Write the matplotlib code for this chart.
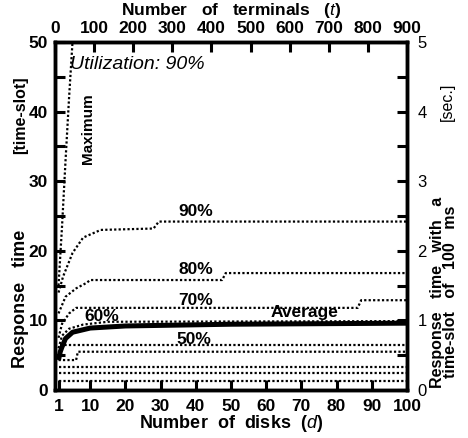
import matplotlib
matplotlib.use("Agg")
import matplotlib.pyplot as plt

plt.rcParams['font.family'] = ['Liberation Sans', 'DejaVu Sans']
plt.rcParams['mathtext.fontset'] = 'custom'
plt.rcParams['mathtext.it'] = 'Liberation Sans:italic'
plt.rcParams['mathtext.rm'] = 'Liberation Sans'

# ---- data (response time in time-slots vs number of disks) ----
max_d = [1, 2, 3, 4, 5.1]
max_v = [15, 23.5, 33, 42, 51]

p90_d = [1, 2.3, 5, 8, 13, 28, 29.5, 100]
p90_v = [14, 16.3, 19.7, 21.9, 23.0, 23.2, 24.2, 24.2]

p80_d = [1, 3, 6, 9, 10, 47.5, 48.5, 100]
p80_v = [11, 13.4, 14.6, 15.4, 15.8, 15.8, 16.8, 16.8]

p70_d = [1, 2, 4, 6, 86, 87, 100]
p70_v = [7.5, 9.5, 11, 11.8, 11.8, 12.9, 12.9]

p60_d = [1, 2, 4, 8, 15, 100]
p60_v = [6, 7.8, 8.8, 9.4, 9.8, 9.9]

avg_d = [1, 1.5, 2, 3, 5, 10, 20, 50, 100]
avg_v = [4.3, 5.5, 6.2, 7.4, 8.3, 8.9, 9.2, 9.45, 9.6]

p50_d = [1.5, 100]
p50_v = [6.5, 6.5]

p40_d = [1, 6, 6.5, 100]
p40_v = [4.3, 4.3, 5.5, 5.5]

p30_d = [1, 100]
p30_v = [3.3, 3.3]

p20_d = [1, 100]
p20_v = [2.4, 2.4]

p10_d = [1, 100]
p10_v = [1.3, 1.3]

x_ticks = [1, 10, 20, 30, 40, 50, 60, 70, 80, 90, 100]
top_ticks = [0, 100, 200, 300, 400, 500, 600, 700, 800, 900]
y_ticks = [0, 10, 20, 30, 40, 50]
y2_ticks = [0, 1, 2, 3, 4, 5]

fig = plt.figure(figsize=(4.68, 4.38), dpi=100)
ax = fig.add_axes([0.1175, 0.1096, 0.752, 0.7945])

dot = dict(color='black', linestyle=(0, (1, 1)), linewidth=1.6)
ax.plot(max_d, max_v, **dot)
for dd, vv in [(p90_d, p90_v), (p80_d, p80_v), (p70_d, p70_v), (p60_d, p60_v),
               (p50_d, p50_v), (p40_d, p40_v), (p30_d, p30_v), (p20_d, p20_v),
               (p10_d, p10_v)]:
    ax.plot(dd, vv, **dot)
ax.plot(avg_d, avg_v, color='black', linewidth=3.6, solid_capstyle='butt')

ax.set_xlim(0, 100)
ax.set_ylim(0, 50)
ax.set_xticks(x_ticks)
ax.set_yticks(y_ticks)
ax.set_yticks([5, 15, 25, 35, 45], minor=True)

fs = 12.5
for sp in ax.spines.values():
    sp.set_linewidth(2.5)
ax.tick_params(which='major', direction='in', length=7, width=2.2, labelsize=fs, pad=5)
ax.tick_params(axis='x', which='major', pad=6.5)
ax.tick_params(which='minor', direction='in', length=7, width=2.2)
for lbl in ax.get_xticklabels() + ax.get_yticklabels():
    lbl.set_fontweight('bold')

ax.set_xlabel('Number  of  disks  ($d$)', fontsize=13, fontweight='bold', labelpad=-1)

# top axis
axt = ax.twiny()
axt.set_xlim(0, 900)
axt.set_xticks(top_ticks)
axt.tick_params(direction='in', length=7, width=2.2, labelsize=fs, pad=4)
for lbl in axt.get_xticklabels():
    lbl.set_fontweight('bold')
fig.text(0.5 * (55 + 407) / 468, 1 - 10 / 438, 'Number   of   terminals   ($t$)',
         ha='center', va='center', fontsize=12.5, fontweight='bold')

# right axis
axr = ax.twinx()
axr.set_ylim(0, 5)
axr.set_yticks(y2_ticks)
axr.set_yticks([0.5, 1.5, 2.5, 3.5, 4.5], minor=True)
axr.tick_params(which='major', direction='in', length=7, width=2.2, labelsize=12, pad=7.5)
axr.tick_params(which='minor', direction='in', length=7, width=2.2)
for sp in axr.spines.values():
    sp.set_linewidth(2.5)

# axis titles
fig.text(21/468, 1 - 299/438, 'Response   time', rotation=90, ha='center', va='center',
         fontsize=13, fontweight='bold')
fig.text(21/468, 1 - 115/438, '[time-slot]', rotation=90, ha='center', va='center',
         fontsize=11.5, fontweight='bold')
fig.text(444/468, 1 - 292/438, 'Response   time   with   a\ntime-slot   of   100   ms', rotation=90,
         ha='center', va='center', fontsize=11.5, fontweight='bold', linespacing=0.85)
fig.text(447/468, 1 - 102/438, '[sec.]', rotation=90, ha='center', va='center',
         fontsize=11.5)

# annotations
ax.text(4.3, 46.8, 'Utilization: 90%', fontsize=14, style='italic', ha='left', va='center')
ax.text(9.4, 37.5, 'Maximum', rotation=90, fontsize=11, fontweight='bold', ha='center', va='center')
ax.text(40, 25.6, '90%', fontsize=fs, fontweight='bold', ha='center', va='center')
ax.text(40, 17.3, '80%', fontsize=fs, fontweight='bold', ha='center', va='center')
ax.text(40, 12.8, '70%', fontsize=fs, fontweight='bold', ha='center', va='center')
ax.text(13.4, 10.5, '60%', fontsize=fs, fontweight='bold', ha='center', va='center')
ax.text(39.5, 7.3, '50%', fontsize=fs, fontweight='bold', ha='center', va='center')
ax.text(71, 11.1, 'Average', fontsize=fs, fontweight='bold', ha='center', va='center')

fig.savefig('out.png', dpi=100)
